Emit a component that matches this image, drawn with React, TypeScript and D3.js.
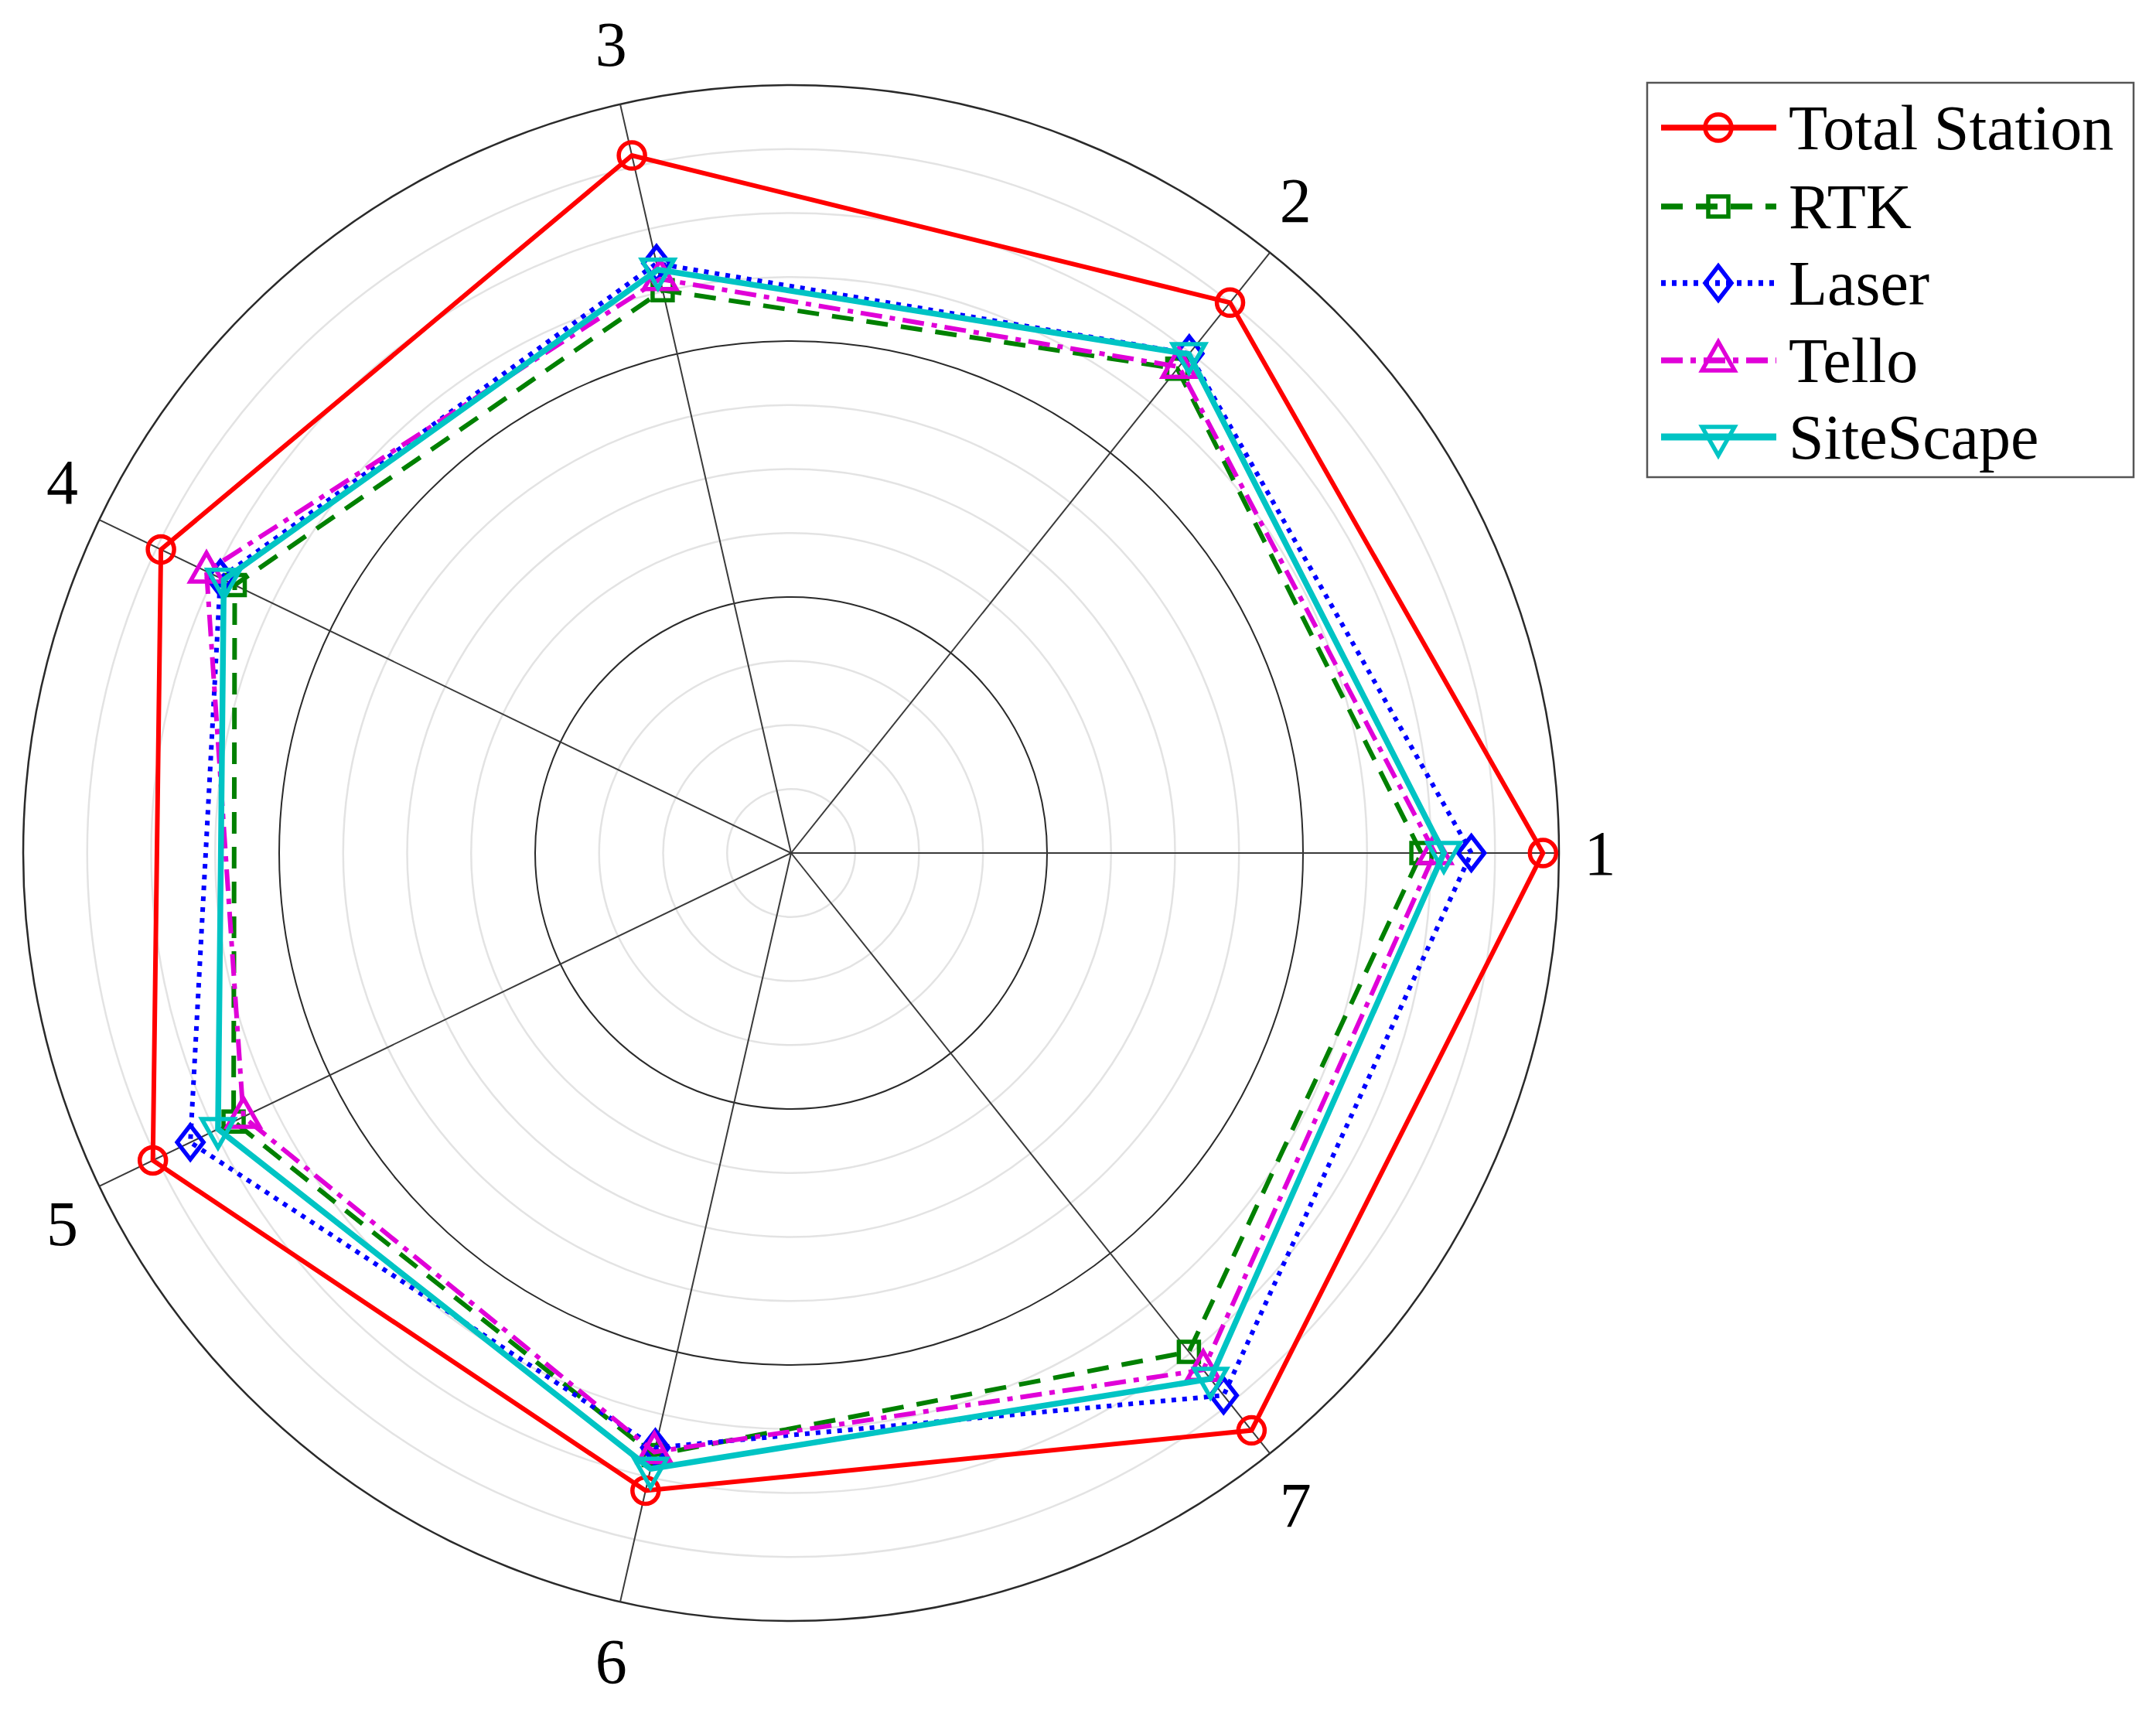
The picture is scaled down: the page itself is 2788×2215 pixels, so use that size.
import React from "react";
import * as d3 from "d3";

const axisLabels = ["1", "2", "3", "4", "5", "6", "7"];
const seriesNames = ["Total Station", "RTK", "Laser", "Tello", "SiteScape"];
const totalStation = [11.75, 11.0, 11.18, 10.93, 11.07, 10.22, 11.54];
const rtk = [9.85, 9.68, 9.02, 9.65, 9.67, 9.65, 9.97];
const laser = [10.63, 9.98, 9.45, 9.9, 10.42, 9.53, 10.84];
const tello = [10.06, 9.72, 9.2, 10.14, 9.5, 9.6, 10.33];
const siteScape = [10.2, 9.97, 9.35, 9.84, 9.94, 9.87, 10.51];
const ringValues = [1, 2, 3, 4, 5, 6, 7, 8, 9, 10, 11, 12];
const majorRings = [4, 8, 12];

const W = 2788;
const H = 2215;
const CX = 1023;
const CY = 1103;
const R = 993;

type Marker = "circle" | "square" | "diamond" | "triUp" | "triDown";
interface Style {
  color: string;
  width: number;
  dash: string | null;
  marker: Marker;
}
const styles: Style[] = [
  { color: "#ff0000", width: 6, dash: null, marker: "circle" },
  { color: "#008000", width: 6, dash: "28,17", marker: "square" },
  { color: "#0000ff", width: 6, dash: "6,8", marker: "diamond" },
  { color: "#e000d8", width: 6, dash: "28,10,7,10", marker: "triUp" },
  { color: "#00c4c4", width: 7.5, dash: null, marker: "triDown" },
];
const allSeries = [totalStation, rtk, laser, tello, siteScape];

const rScale = d3.scaleLinear().domain([0, 12]).range([0, R]);
const n = axisLabels.length;
const theta = (i: number) => (i * 2 * Math.PI) / n;

function markerPath(m: Marker): string {
  switch (m) {
    case "circle":
      return "M17,0A17,17 0 1,1 -17,0A17,17 0 1,1 17,0Z";
    case "square":
      return "M-13,-13L13,-13L13,13L-13,13Z";
    case "diamond":
      return "M0,-22L17,0L0,22L-17,0Z";
    case "triUp":
      return "M0,-24L21,13L-21,13Z";
    case "triDown":
      return "M0,24L21,-13L-21,-13Z";
  }
}

export default function App() {
  const lineGen = d3
    .lineRadial<number>()
    .angle((_, i) => Math.PI / 2 - theta(i))
    .radius((v) => rScale(v))
    .curve(d3.curveLinearClosed);

  const labelR = 1046;
  const labelDy = 26;
  const legendX = 2130;
  const legendY = 107;
  const legendW = 629;
  const legendH = 510;
  const rowY = [165, 267, 366, 466, 565];

  return (
    <svg
      width={W}
      height={H}
      style={{ position: "absolute", left: 0, top: 0, background: "#fff" }}
      fontFamily="'Liberation Serif', 'Times New Roman', serif"
    >
      <rect x={0} y={0} width={W} height={H} fill="#fff" />
      <g transform={`translate(${CX},${CY})`}>
        {ringValues
          .filter((v) => !majorRings.includes(v))
          .map((v) => (
            <circle key={"g" + v} r={rScale(v)} fill="none" stroke="#e3e3e3" strokeWidth={2.5} />
          ))}
        {majorRings.map((v) => (
          <circle key={"m" + v} r={rScale(v)} fill="none" stroke="#2a2a2a" strokeWidth={v === 12 ? 2.5 : 2} />
        ))}
        {axisLabels.map((_, i) => (
          <line
            key={"s" + i}
            x1={0}
            y1={0}
            x2={rScale(12) * Math.cos(theta(i))}
            y2={-rScale(12) * Math.sin(theta(i))}
            stroke="#3a3a3a"
            strokeWidth={2}
          />
        ))}
        {axisLabels.map((lab, i) => {
          const s = Math.sin(theta(i));
          const off = Math.abs(s) < 1e-6 ? 0 : Math.sign(s) * labelDy;
          return (
            <text
              key={"l" + i}
              x={labelR * Math.cos(theta(i))}
              y={-labelR * s - off}
              textAnchor="middle"
              dominantBaseline="central"
              fontSize={82}
              fill="#000"
            >
              {lab}
            </text>
          );
        })}
        {allSeries.map((vals, si) => {
          const st = styles[si];
          return (
            <g key={"ser" + si}>
              <path
                d={lineGen(vals) || ""}
                fill="none"
                stroke={st.color}
                strokeWidth={st.width}
                strokeDasharray={st.dash || undefined}
                strokeLinejoin="miter"
              />
              {vals.map((v, i) => (
                <path
                  key={i}
                  d={markerPath(st.marker)}
                  transform={`translate(${rScale(v) * Math.cos(theta(i))},${-rScale(v) * Math.sin(theta(i))})`}
                  fill="none"
                  stroke={st.color}
                  strokeWidth={5.5}
                />
              ))}
            </g>
          );
        })}
      </g>
      <g>
        <rect
          x={legendX}
          y={legendY}
          width={legendW}
          height={legendH}
          fill="#fff"
          stroke="#555"
          strokeWidth={2.5}
        />
        {seriesNames.map((name, si) => {
          const st = styles[si];
          const y = rowY[si];
          return (
            <g key={"leg" + si}>
              <line
                x1={2148}
                y1={y}
                x2={2297}
                y2={y}
                stroke={st.color}
                strokeWidth={st.width + 1.5}
                strokeDasharray={st.dash || undefined}
              />
              <path
                d={markerPath(st.marker)}
                transform={`translate(2222,${y})`}
                fill="none"
                stroke={st.color}
                strokeWidth={5.5}
              />
              <text x={2313} y={y} dominantBaseline="central" fontSize={82} fill="#000">
                {name}
              </text>
            </g>
          );
        })}
      </g>
    </svg>
  );
}
